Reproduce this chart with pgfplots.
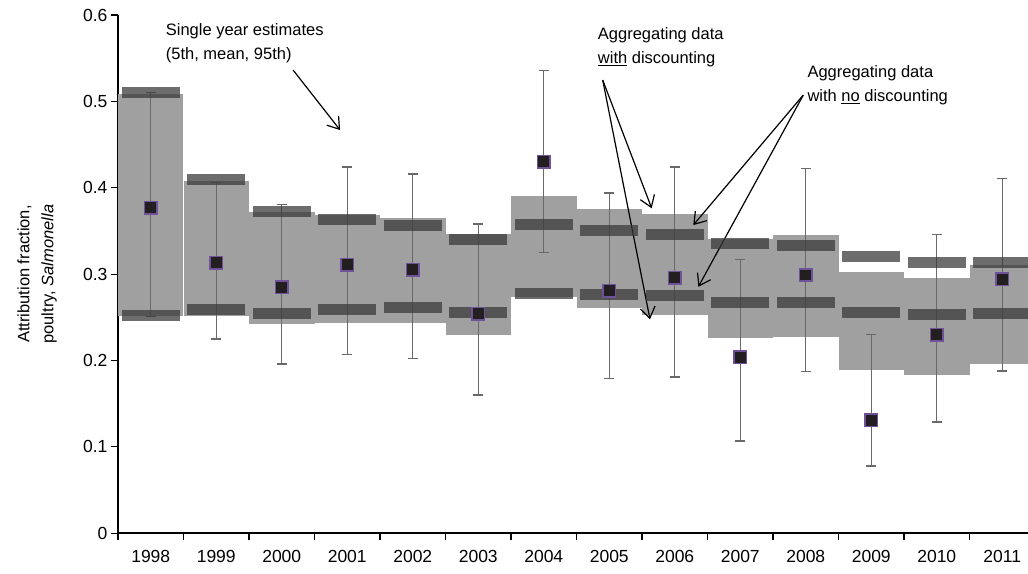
\documentclass[border=0pt]{standalone}
\usepackage{fontspec}
\setmainfont{Liberation Sans}
\usepackage{pgfplots}
\usepackage{pgfplotstable}
\pgfplotsset{compat=1.18}
\usetikzlibrary{arrows.meta}

\definecolor{boxgray}{RGB}{160,160,160}
\definecolor{darkbar}{RGB}{58,58,58}
\definecolor{errgray}{RGB}{105,105,105}
\definecolor{markfill}{RGB}{35,31,32}
\definecolor{markedge}{RGB}{112,82,155}

\pgfplotstableread{
x  blo   bhi   dlo   dhi   mean  elo   ehi
0  0.252 0.509 0.252 0.510 0.377 0.251 0.510
1  0.252 0.408 0.259 0.409 0.313 0.225 0.406
2  0.242 0.372 0.254 0.372 0.285 0.196 0.381
3  0.244 0.369 0.259 0.363 0.311 0.207 0.424
4  0.244 0.365 0.261 0.356 0.305 0.202 0.416
5  0.230 0.347 0.256 0.340 0.254 0.160 0.358
6  0.274 0.390 0.278 0.358 0.430 0.325 0.536
7  0.261 0.375 0.276 0.350 0.281 0.179 0.394
8  0.253 0.370 0.275 0.346 0.296 0.181 0.424
9  0.226 0.341 0.267 0.335 0.204 0.107 0.317
10 0.227 0.345 0.267 0.333 0.299 0.187 0.422
11 0.189 0.302 0.256 0.320 0.131 0.078 0.230
12 0.183 0.296 0.253 0.314 0.230 0.129 0.346
13 0.196 0.311 0.254 0.313 0.294 0.188 0.411
}\datatable

\begin{document}
\begin{tikzpicture}
\begin{axis}[
  at={(0,0)}, anchor=south west,
  width=910pt, height=518.3pt, scale only axis,
  xmin=-0.5, xmax=13.393, ymin=0, ymax=0.6,
  axis x line*=bottom, axis y line*=left,
  axis line style={line width=1.8pt, black},
  tick align=outside,
  major tick length=7pt,
  tick style={black, line width=1.1pt},
  xtick={-0.5,0.5,1.5,2.5,3.5,4.5,5.5,6.5,7.5,8.5,9.5,10.5,11.5,12.5},
  xticklabels={},
  extra x ticks={0,1,2,3,4,5,6,7,8,9,10,11,12,13},
  extra x tick labels={1998,1999,2000,2001,2002,2003,2004,2005,2006,2007,2008,2009,2010,2011},
  extra x tick style={major tick length=0pt},
  ytick={0,0.1,0.2,0.3,0.4,0.5,0.6},
  yticklabel style={/pgf/number format/fixed, /pgf/number format/precision=1},
  /pgf/number format/assume math mode=true,
  tick label style={font=\fontsize{17.5}{20}\selectfont},
  xticklabel style={yshift=-13pt},
  ylabel={Attribution fraction,\\poultry, \textit{Salmonella}},
  ylabel style={align=center, font=\fontsize{16.5}{24}\selectfont, at={(axis description cs:-0.089,0.5)}, anchor=center},
]
% light boxes
\addplot[draw=none, mark=none, forget plot,
  error bars/.cd, y dir=plus, y explicit,
  error bar style={draw=boxgray, line width=65.5pt}, error mark=none]
  table[x=x, y=blo, y error plus expr=\thisrow{bhi}-\thisrow{blo}] {\datatable};
% dark bars
\addplot[only marks, mark=-, mark size=29pt, forget plot,
  mark options={draw=darkbar, line width=11pt, opacity=0.74}]
  table[x=x, y=dlo] {\datatable};
\addplot[only marks, mark=-, mark size=29pt, forget plot,
  mark options={draw=darkbar, line width=11pt, opacity=0.74}]
  table[x=x, y=dhi] {\datatable};
% single year estimates
\addplot[only marks, mark=square*, mark size=6.2pt,
  mark options={fill=markfill, draw=markedge, line width=1.5pt},
  error bars/.cd, y dir=both, y explicit,
  error bar style={draw=errgray, line width=1.3pt},
  error mark=-, error mark options={draw=errgray, line width=1.3pt, mark size=5pt, rotate=90}]
  table[x=x, y=mean, y error plus expr=\thisrow{ehi}-\thisrow{mean}, y error minus expr=\thisrow{mean}-\thisrow{elo}] {\datatable};

% annotations
\node[anchor=west, align=left, inner sep=0pt, font=\fontsize{16.5}{24}\selectfont] at (axis cs:0.228,0.567) {Single year estimates\\(5th, mean, 95th)};
\draw[line width=1.2pt, -{Straight Barb[length=11pt,width=15pt]}] (axis cs:2.174,0.5362) -- (axis cs:2.891,0.4668);

\node[anchor=west, align=left, inner sep=0pt, font=\fontsize{16.5}{24}\selectfont] at (axis cs:6.824,0.5627) {Aggregating data\\\underline{with} discounting};
\draw[line width=1.2pt, -{Straight Barb[length=11pt,width=15pt]}] (axis cs:6.900,0.5247) -- (axis cs:7.648,0.3762);
\draw[line width=1.2pt, -{Straight Barb[length=11pt,width=15pt]}] (axis cs:6.900,0.5247) -- (axis cs:7.622,0.2477);

\node[anchor=west, align=left, inner sep=0pt, font=\fontsize{16.5}{24}\selectfont] at (axis cs:10.024,0.5189) {Aggregating data\\with \underline{no} discounting};
\draw[line width=1.2pt, -{Straight Barb[length=11pt,width=15pt]}] (axis cs:9.962,0.5073) -- (axis cs:8.283,0.3568);
\draw[line width=1.2pt, -{Straight Barb[length=11pt,width=15pt]}] (axis cs:9.962,0.5073) -- (axis cs:8.360,0.2854);
\end{axis}
\pgfresetboundingbox
\useasboundingbox (-118pt,-39.7pt) rectangle (910pt,533.3pt);
\end{tikzpicture}
\end{document}
